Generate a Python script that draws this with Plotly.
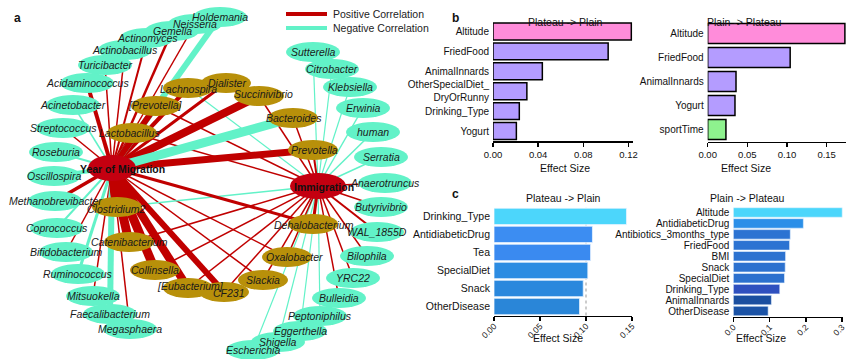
import plotly.graph_objects as go

W, H = 850, 359

# ---------------- network data (panel a) ----------------
hub_names = ["Year of Migration", "Immigration"]
hub_x = [112, 318]
hub_y = [168, 186]

outer_names = ["Holdemania", "Neisseria", "Gemella", "Actinomyces", "Actinobacillus",
               "Turicibacter", "Acidaminococcus", "Acinetobacter", "Streptococcus",
               "Roseburia", "Oscillospira", "Methanobrevibacter", "Coprococcus",
               "Bifidobacterium", "Ruminococcus", "Mitsuokella", "Faecalibacterium",
               "Megasphaera", "Sutterella", "Citrobacter", "Klebsiella", "Erwinia",
               "human", "Serratia", "Anaerotruncus", "Butyrivibrio", "WAL_1855D",
               "Bilophila", "YRC22", "Bulleidia", "Peptoniphilus", "Eggerthella",
               "Shigella", "Escherichia"]
outer_x = [220, 195, 172, 147, 125, 105, 87, 73, 63, 56, 54, 55, 57, 66, 78, 93, 110, 130,
           313, 332, 350, 363, 373, 381, 385, 381, 377, 367, 353, 339, 320, 300, 278, 253]
outer_y = [17, 24, 31, 38, 50, 65, 83, 105, 128, 152, 176, 201, 228, 252, 274, 296, 314, 329,
           52, 69, 87, 108, 132, 157, 183, 207, 232, 256, 278, 298, 316, 331, 342, 350]

gold_names = ["Dialister", "Lachnospira", "Succinivibrio", "[Prevotella]", "Bacteroides",
              "Lactobacillus", "Prevotella", "Clostridium2", "Catenibacterium", "Collinsella",
              "[Eubacterium]", "CF231", "Slackia", "Oxalobacter", "Dehalobacterium"]
gold_x = [226, 188, 259, 156, 293, 132, 313, 117, 129, 155, 188, 224, 263, 287, 313]
gold_y = [83, 88, 96, 106, 118, 133, 150, 207, 242, 270, 288, 292, 280, 257, 224]
gold_label_x = [227, 188, 263, 155, 294, 129, 314, 116, 129, 155, 190, 229, 263, 294, 314]
gold_label_y = [83, 89, 94, 105, 118, 133, 150, 209, 242, 270, 286, 293, 280, 257, 225]

# edges: hub index, target node, sign (+1 positive / -1 negative), weight (line width)
edge_from = [0] * 33 + [1] * 30
edge_to = ["Holdemania", "Neisseria", "Gemella", "Actinomyces", "Actinobacillus",
           "Turicibacter", "Acidaminococcus", "Acinetobacter", "Streptococcus", "Roseburia",
           "Oscillospira", "Methanobrevibacter", "Coprococcus", "Bifidobacterium",
           "Ruminococcus", "Mitsuokella", "Faecalibacterium", "Megasphaera",
           "Lachnospira", "Dialister", "Succinivibrio", "[Prevotella]", "Lactobacillus",
           "Bacteroides", "Prevotella", "Clostridium2", "Catenibacterium", "Collinsella",
           "[Eubacterium]", "CF231", "Slackia", "Oxalobacter", "Dehalobacterium",
           # Immigration
           "Sutterella", "Citrobacter", "Klebsiella", "Erwinia", "human", "Serratia",
           "Anaerotruncus", "Butyrivibrio", "WAL_1855D", "Bilophila", "YRC22", "Bulleidia",
           "Peptoniphilus", "Eggerthella", "Shigella", "Escherichia",
           "Lachnospira", "[Prevotella]", "Lactobacillus", "Succinivibrio", "Bacteroides",
           "Prevotella", "Clostridium2", "Catenibacterium", "Collinsella", "[Eubacterium]",
           "CF231", "Slackia", "Oxalobacter", "Dehalobacterium"]
edge_sign = [-1, 1, 1, 1, 1, 1, 1, -1, 1, -1, -1, 1, -1, 1, -1, 1, -1, 1,
             1, 1, 1, 1, 1, -1, 1, 1, 1, 1, 1, 1, 1, 1, 1,
             -1, -1, -1, -1, -1, -1, 1, 1, 1, 1, 1, 1, -1, -1, -1, -1,
             -1, 1, 1, 1, 1, 1, -1, 1, 1, 1, 1, 1, 1, 1]
edge_weight = [6, 1.5, 2.5, 2, 1.5, 1.5, 4, 1.5, 1.5, 2, 4, 3.5, 2, 1.5, 3, 1.5, 6, 1.5,
               4, 3, 8, 6, 3, 9, 7, 10, 9, 9, 8, 6, 1.5, 1.5, 3,
               1.2, 1.2, 1.2, 1.5, 1.5, 1.5, 1.5, 1.5, 2, 1.5, 1.5, 1.5, 1.2, 1.2, 1.2, 1.2,
               1.2, 1.5, 1.5, 1.5, 1.5, 2, 1.5, 1.5, 1.5, 1.5, 1.5, 1.5, 1.5, 3]

# ---------------- bar data (panels b, c) ----------------
b_left_cats = ["Altitude", "FriedFood", "AnimalInnards", "OtherSpecialDiet_<br>DryOrRunny",
               "Drinking_Type", "Yogurt"]
b_left_vals = [0.1225, 0.102, 0.0437, 0.030, 0.0233, 0.0207]
b_left_colors = ["#FF8CDA", "#B49CFF", "#B49CFF", "#B49CFF", "#B49CFF", "#B49CFF"]
b_left_ticks = [0, 0.04, 0.08, 0.12]
b_left_ticktext = ["0.00", "0.04", "0.08", "0.12"]

b_right_cats = ["Altitude", "FriedFood", "AnimalInnards", "Yogurt", "sportTime"]
b_right_vals = [0.173, 0.104, 0.0357, 0.0344, 0.023]
b_right_colors = ["#FF8CDA", "#B49CFF", "#B49CFF", "#B49CFF", "#8EF28E"]
b_right_ticks = [0, 0.05, 0.10, 0.15]
b_right_ticktext = ["0.00", "0.05", "0.10", "0.15"]

c_left_cats = ["Drinking_Type", "AntidiabeticDrug", "Tea", "SpecialDiet", "Snack", "OtherDisease"]
c_left_vals = [0.144, 0.107, 0.105, 0.102, 0.097, 0.093]
c_left_colors = ["#4CD6FB", "#3C8DF2", "#3A8AF0", "#2C8CE2", "#2A88DD", "#2A86D8"]
c_left_ticks = [0, 0.05, 0.10, 0.15]
c_left_ticktext = ["0.00", "0.05", "0.10", "0.15"]

c_right_cats = ["Altitude", "AntidiabeticDrug", "Antibiotics_3months_type", "FriedFood", "BMI",
                "Snack", "SpecialDiet", "Drinking_Type", "AnimalInnards", "OtherDisease"]
c_right_vals = [0.300, 0.193, 0.157, 0.155, 0.144, 0.143, 0.141, 0.128, 0.105, 0.096]
c_right_colors = ["#4CD6FB", "#2B8FE8", "#2C73D2", "#2C73D2", "#2C72D0", "#2C71CF",
                  "#2C70CE", "#2F50BF", "#1B4FA0", "#1B53A6"]
c_right_ticks = [0, 0.1, 0.2, 0.3]
c_right_ticktext = ["0.0", "0.1", "0.2", "0.3"]

# ---------------- styles ----------------
POS = "#C00000"
NEG = "#62F2C8"
GOLD = "#B8900A"
FONT = "Arial, Liberation Sans, sans-serif"


def px(x):
    return x / W


def py(y):
    return 1 - y / H


fig = go.Figure()

pos_lookup = {}
for n, x, y in zip(outer_names, outer_x, outer_y):
    pos_lookup[n] = (x, y)
for n, x, y in zip(gold_names, gold_x, gold_y):
    pos_lookup[n] = (x, y)

# edges, thin first then thick
order = sorted(range(len(edge_to)), key=lambda i: edge_weight[i])
for i in order:
    hx, hy = hub_x[edge_from[i]], hub_y[edge_from[i]]
    tx, ty = pos_lookup[edge_to[i]]
    fig.add_trace(go.Scatter(
        x=[hx, tx], y=[hy, ty], mode="lines", xaxis="x", yaxis="y",
        line=dict(color=POS if edge_sign[i] > 0 else NEG, width=edge_weight[i]),
        hoverinfo="skip", showlegend=False))

shapes = []
annotations = []

# node ellipses
for n, x, y in zip(outer_names, outer_x, outer_y):
    shapes.append(dict(type="circle", xref="x", yref="y", x0=x - 27, x1=x + 27,
                       y0=y - 10, y1=y + 10, fillcolor=NEG, line=dict(width=0),
                       layer="above"))
    annotations.append(dict(x=x, y=y, xref="x", yref="y", text="<i>" + n + "</i>",
                            showarrow=False, font=dict(family=FONT, size=10.5, color="#1a1a1a")))
for n, x, y, lx, ly in zip(gold_names, gold_x, gold_y, gold_label_x, gold_label_y):
    shapes.append(dict(type="circle", xref="x", yref="y", x0=x - 25, x1=x + 25,
                       y0=y - 10, y1=y + 10, fillcolor=GOLD, line=dict(width=0),
                       layer="above"))
    annotations.append(dict(x=lx, y=ly, xref="x", yref="y", text="<i>" + n + "</i>",
                            showarrow=False, font=dict(family=FONT, size=10.5, color="#1a1a1a")))
hub_w = [48, 56]
hub_label_x = [122, 324]
for n, x, y, w, lx in zip(hub_names, hub_x, hub_y, hub_w, hub_label_x):
    shapes.append(dict(type="circle", xref="x", yref="y", x0=x - w / 2, x1=x + w / 2,
                       y0=y - 13, y1=y + 13, fillcolor="#C40010", line=dict(width=0),
                       layer="above"))
    annotations.append(dict(x=lx, y=y + 1, xref="x", yref="y", text="<b>" + n + "</b>",
                            showarrow=False, font=dict(family=FONT, size=10.5, color="#111")))

# legend of panel a
shapes.append(dict(type="line", xref="x", yref="y", x0=286, x1=327, y0=14, y1=14,
                   line=dict(color=POS, width=4)))
shapes.append(dict(type="line", xref="x", yref="y", x0=286, x1=327, y0=28, y1=28,
                   line=dict(color=NEG, width=4)))
annotations.append(dict(x=331, y=14, xref="x", yref="y", text="Positive Correlation",
                        xanchor="left", showarrow=False, font=dict(family=FONT, size=10.5, color="#222")))
annotations.append(dict(x=331, y=28, xref="x", yref="y", text="Negative Correlation",
                        xanchor="left", showarrow=False, font=dict(family=FONT, size=10.5, color="#222")))

# ---------------- bars ----------------
fig.add_trace(go.Bar(y=b_left_cats, x=b_left_vals, orientation="h", xaxis="x2", yaxis="y2",
                     marker=dict(color=b_left_colors, line=dict(color="black", width=1.5)),
                     width=0.85, showlegend=False, hoverinfo="skip"))
fig.add_trace(go.Bar(y=b_right_cats, x=b_right_vals, orientation="h", xaxis="x3", yaxis="y3",
                     marker=dict(color=b_right_colors, line=dict(color="black", width=1.5)),
                     width=0.84, showlegend=False, hoverinfo="skip"))
fig.add_trace(go.Bar(y=c_left_cats, x=c_left_vals, orientation="h", xaxis="x4", yaxis="y4",
                     marker=dict(color=c_left_colors, line=dict(color="#e8f4ff", width=0.8)),
                     width=0.91, showlegend=False, hoverinfo="skip"))
fig.add_trace(go.Bar(y=c_right_cats, x=c_right_vals, orientation="h", xaxis="x5", yaxis="y5",
                     marker=dict(color=c_right_colors, line=dict(color="#e8f4ff", width=0.6)),
                     width=0.87, showlegend=False, hoverinfo="skip"))

# dotted reference line in c-left
shapes.append(dict(type="line", xref="x4", yref="y4 domain", x0=0.10, x1=0.10, y0=0, y1=1,
                   line=dict(color="#999", width=1, dash="dot"), layer="below"))


def xax(dom, rng, tv, tt, angle=0, size=9.5, standoff=None):
    d = dict(domain=[px(dom[0]), px(dom[1])], range=rng, tickmode="array",
             tickvals=tv, ticktext=tt,
             showline=True, linecolor="black", linewidth=1.5, ticks="outside",
             ticklen=4, tickwidth=1.5, tickcolor="black", showgrid=False, zeroline=False,
             tickangle=angle, tickfont=dict(family=FONT, size=size, color="#111"),
             fixedrange=True, automargin=False)
    if standoff is not None:
        d["ticklabelstandoff"] = standoff
    return d


def yax(anchor, dom, cats, size=10):
    return dict(domain=[py(dom[1]), py(dom[0])], anchor=anchor, autorange="reversed",
                type="category", tickmode="array", tickvals=cats, ticktext=cats,
                showline=False, ticks="", showgrid=False, zeroline=False,
                tickfont=dict(family=FONT, size=size, color="#111"), fixedrange=True,
                ticklabelstandoff=3, automargin=False)


fig.update_layout(
    template="none",
    width=W, height=H, margin=dict(l=0, r=0, t=0, b=0, pad=0, autoexpand=False),
    paper_bgcolor="white", plot_bgcolor="rgba(0,0,0,0)",
    showlegend=False, hovermode=False,
    font=dict(family=FONT, color="#111"),
    xaxis=dict(domain=[0, 0.5], range=[0, 425], visible=False, fixedrange=True,
               automargin=False),
    yaxis=dict(domain=[0, 1], range=[359, 0], visible=False, fixedrange=True,
               automargin=False),
    xaxis2=dict(anchor="y2", **xax((493, 633), [0, 0.124], b_left_ticks, b_left_ticktext)),
    yaxis2=yax("x2", (21.5, 141), b_left_cats),
    xaxis3=dict(anchor="y3", **xax((707.7, 846), [0, 0.1744], b_right_ticks, b_right_ticktext)),
    yaxis3=yax("x3", (21.5, 141.5), b_right_cats),
    xaxis4=dict(anchor="y4", **xax((494, 632), [0, 0.15], c_left_ticks, c_left_ticktext, -45, 8.5, -3)),
    yaxis4=yax("x4", (207.4, 315.5), c_left_cats, 10.5),
    xaxis5=dict(anchor="y5", **xax((733.3, 843.3), [0, 0.303], c_right_ticks, c_right_ticktext, -45, 8.5, -3)),
    yaxis5=yax("x5", (207, 316.5), c_right_cats, 10),
)

# titles, axis labels and panel letters
texts = [
    ("Plateau -> Plain", 565, 14, 10.5, False),
    ("Plain -> Plateau", 784, 14, 10.5, False),
    ("Plateau -> Plain", 563, 198, 10.5, False),
    ("Plain -> Plateau", 787, 198, 10.5, False),
    ("Effect Size", 565, 168, 10.5, False),
    ("Effect Size", 773, 168, 10.5, False),
    ("Effect Size", 558, 346, 10.5, False),
    ("Effect Size", 788, 346, 10.5, False),
    ("a", 12, 9, 12, True),
    ("b", 455, 9, 12, True),
    ("c", 455, 194, 12, True),
]
for t, x, y, s, bold in texts:
    annotations.append(dict(x=px(x), y=py(y), xref="paper", yref="paper",
                            text="<b>" + t + "</b>" if bold else t, showarrow=False,
                            font=dict(family=FONT, size=s, color="#111")))

fig.update_layout(shapes=shapes, annotations=annotations)
fig.write_html("out.html", config={"displayModeBar": False, "staticPlot": True},
               post_script="document.body.style.margin='0';document.body.style.padding='0';"
                           "document.body.style.overflow='hidden';")
